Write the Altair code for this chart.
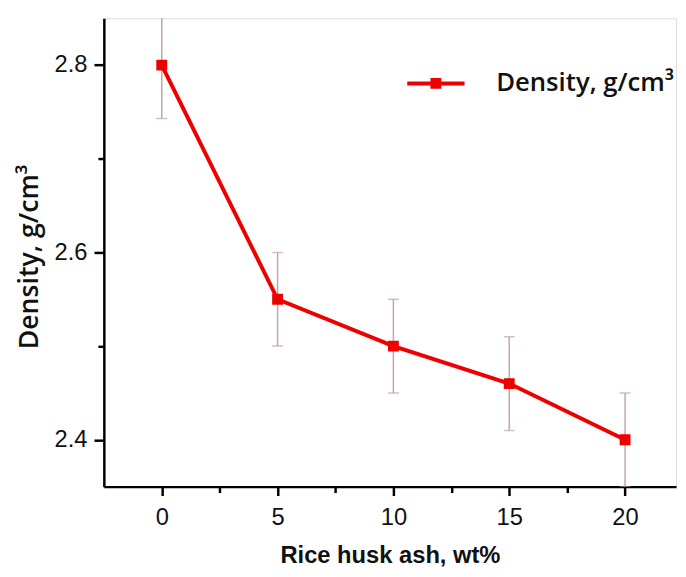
import altair as alt
import pandas as pd

# data
rha = [0, 5, 10, 15, 20]
density = [2.80, 2.55, 2.50, 2.46, 2.40]
err = [0.057, 0.05, 0.05, 0.05, 0.05]
series_name = "Density, g/cm³"
x_ticks = [0, 2.5, 5, 7.5, 10, 12.5, 15, 17.5, 20]
y_ticks = [2.4, 2.5, 2.6, 2.7, 2.8]

df = pd.DataFrame({"x": rha, "y": density, "e": err})
df["lo"] = df["y"] - df["e"]
df["hi"] = df["y"] + df["e"]
df["series"] = series_name

RED = "#ee0000"
ERR = "#c4a4a8"

xscale = alt.Scale(domain=[-2.5, 22.2], nice=False, zero=False)
yscale = alt.Scale(domain=[2.35, 2.85], nice=False, zero=False)

x_minor = "datum.value % 5 != 0"
y_minor = "round(datum.value * 10) % 2 == 1"

xaxis = alt.Axis(
    values=x_ticks, title="Rice husk ash, wt%", grid=False,
    labelExpr=f"{x_minor} ? '' : datum.label", labelFlush=False, labelOverlap=False,
    domainColor="black", domainWidth=2.5, tickColor="black", tickWidth=2.5,
    tickSize={"condition": {"test": x_minor, "value": 6}, "value": 9},
    labelFont="Liberation Sans", labelFontSize=24, labelColor="#111",
    labelPadding=10, titleFont="Liberation Sans", titleFontSize=24,
    titleFontWeight="bold", titleColor="#111", titleY=77,
    titleBaseline="alphabetic",
)
yaxis = alt.Axis(
    values=y_ticks, format=".1f", title=series_name, grid=False,
    labelExpr=f"{y_minor} ? '' : datum.label", labelFlush=False, labelOverlap=False,
    domainColor="black", domainWidth=2.5, tickColor="black", tickWidth=2.5,
    tickSize={"condition": {"test": y_minor, "value": 6}, "value": 10},
    labelFont="Liberation Sans", labelFontSize=24, labelColor="#111",
    labelPadding=7, titleFont="Open Sans", titleFontSize=27, titleFontWeight=600,
    titleColor="#111", titleAngle=-90, titleX=-75, titleY=241,
    titleAlign="center", titleBaseline="middle",
)

legend = alt.Legend(
    orient="none", legendX=305, legendY=35, title=None, padding=0,
    symbolType="M-1,0H1M-0.12,-0.12H0.12V0.12H-0.12Z", symbolSize=3364,
    symbolStrokeWidth=4, symbolFillColor=RED, symbolStrokeColor=RED,
    labelFont="Open Sans", labelFontSize=26, labelFontWeight=600,
    labelColor="#111", labelOffset=30, labelLimit=400,
)

X = alt.X("x:Q", scale=xscale, axis=xaxis)
base = alt.Chart(df)

bars = base.mark_rule(color=ERR, strokeWidth=1.5, clip=True).encode(
    x=X, y=alt.Y("lo:Q", scale=yscale, axis=yaxis), y2="hi:Q"
)
cap_lo = base.mark_tick(color=ERR, thickness=1.5, size=11, orient="horizontal", clip=True).encode(
    x=X, y=alt.Y("lo:Q", scale=yscale, axis=yaxis)
)
cap_hi = base.mark_tick(color=ERR, thickness=1.5, size=11, orient="horizontal", clip=True).encode(
    x=X, y=alt.Y("hi:Q", scale=yscale, axis=yaxis)
)
line = base.mark_line(strokeWidth=4, clip=True).encode(
    x=X,
    y=alt.Y("y:Q", scale=yscale, axis=yaxis),
    color=alt.Color("series:N", scale=alt.Scale(range=[RED]), legend=legend),
)
pts = base.mark_square(size=121, color=RED, opacity=1, clip=True).encode(
    x=X, y=alt.Y("y:Q", scale=yscale, axis=yaxis)
)

chart = alt.layer(bars, cap_lo, cap_hi, line, pts).properties(
    width=579, height=474,
    autosize=alt.AutoSizeParams(type="none"),
    padding={"left": 97, "top": 7, "right": 2, "bottom": 80},
).configure_view(stroke=None).configure(background="white")

chart.save("out.html", embed_options={"renderer": "svg", "actions": False})
